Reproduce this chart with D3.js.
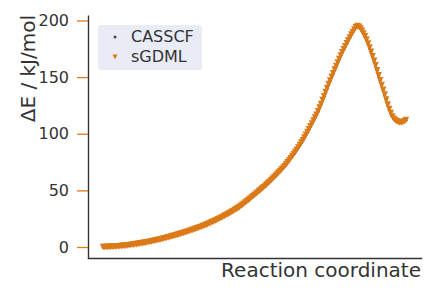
<!DOCTYPE html>
<html>
<head>
<meta charset="utf-8">
<script src="https://cdn.jsdelivr.net/npm/d3@7"></script>
<style>
  body { margin: 0; background: #fff; }
  svg { display: block; font-family: "DejaVu Sans", sans-serif; }
</style>
</head>
<body>
<script>
"use strict";

// energies along the reaction coordinate (kJ/mol), one value per frame
const casscf = [
    0.0, 0.02, 0.04, 0.07, 0.12, 0.17, 0.24, 0.32, 0.40, 0.50,
    0.60, 0.72, 0.84, 0.97, 1.11, 1.26, 1.42, 1.58, 1.75, 1.93,
    2.12, 2.32, 2.52, 2.73, 2.95, 3.17, 3.41, 3.65, 3.90, 4.16,
    4.42, 4.69, 4.97, 5.25, 5.55, 5.85, 6.15, 6.46, 6.78, 7.11,
    7.45, 7.79, 8.13, 8.49, 8.85, 9.22, 9.59, 9.97, 10.36, 10.75,
    11.15, 11.56, 11.97, 12.39, 12.81, 13.25, 13.69, 14.13, 14.58, 15.04,
    15.51, 15.98, 16.46, 16.94, 17.43, 17.95, 18.48, 19.02, 19.58, 20.15,
    20.73, 21.33, 21.93, 22.55, 23.19, 23.84, 24.50, 25.17, 25.86, 26.55,
    27.26, 27.99, 28.73, 29.48, 30.24, 31.02, 31.81, 32.61, 33.42, 34.3,
    35.25, 36.2, 37.2, 38.25, 39.3, 40.35, 41.4, 42.5, 43.65, 44.8,
    45.9, 47.0, 48.15, 49.3, 50.4, 51.5, 52.7, 53.9, 55.1, 56.4,
    57.65, 58.9, 60.2, 61.55, 62.9, 64.3, 65.7, 67.1, 68.55, 70.0,
    71.5, 73.15, 74.85, 76.6, 78.4, 80.2, 82.05, 83.95, 85.9, 87.9,
    90.0, 92.1, 94.3, 96.6, 99.0, 101.4, 103.9, 106.45, 109.05, 111.65,
    114.2, 116.8, 119.8, 123.1, 126.3, 129.7, 133.1, 136.7, 140.4, 143.8,
    147.0, 150.2, 153.4, 156.6, 159.7, 162.9, 166.0, 169.0, 171.8, 174.5,
    177.2, 179.9, 182.5, 185.0, 187.5, 189.8, 192.0, 194.0, 195.0, 194.4,
    192.9, 190.8, 188.5, 185.9, 183.0, 179.6, 176.0, 172.3, 168.4, 164.4,
    160.3, 156.0, 151.6, 147.2, 142.9, 138.7, 134.5, 130.1, 125.7, 121.8,
    118.2, 115.2, 113.2, 111.9, 111.0, 110.35, 110.0, 110.05, 110.4, 111.05,
    112.0
];

const sgdml = [
    0.0, 0.02, 0.04, 0.07, 0.12, 0.17, 0.24, 0.32, 0.40, 0.50,
    0.60, 0.72, 0.84, 0.97, 1.11, 1.26, 1.42, 1.58, 1.75, 1.93,
    2.12, 2.32, 2.52, 2.73, 2.95, 3.17, 3.41, 3.65, 3.90, 4.16,
    4.42, 4.69, 4.97, 5.25, 5.55, 5.85, 6.15, 6.46, 6.78, 7.11,
    7.45, 7.79, 8.13, 8.49, 8.85, 9.22, 9.59, 9.97, 10.36, 10.75,
    11.15, 11.56, 11.97, 12.39, 12.81, 13.25, 13.69, 14.13, 14.58, 15.04,
    15.51, 15.98, 16.46, 16.94, 17.43, 17.95, 18.48, 19.02, 19.58, 20.15,
    20.73, 21.33, 21.93, 22.55, 23.19, 23.84, 24.50, 25.17, 25.86, 26.55,
    27.26, 27.99, 28.73, 29.48, 30.24, 31.02, 31.81, 32.61, 33.42, 34.3,
    35.25, 36.2, 37.2, 38.25, 39.3, 40.35, 41.4, 42.5, 43.65, 44.8,
    45.9, 47.0, 48.15, 49.3, 50.4, 51.5, 52.7, 53.9, 55.1, 56.4,
    57.65, 58.9, 60.2, 61.55, 62.9, 64.3, 65.7, 67.1, 68.55, 70.0,
    71.5, 73.15, 74.85, 76.6, 78.4, 80.2, 82.05, 83.95, 85.9, 87.9,
    90.0, 92.1, 94.3, 96.6, 99.0, 101.4, 103.9, 106.45, 109.05, 111.65,
    114.2, 116.8, 119.8, 123.1, 126.3, 129.7, 133.1, 136.7, 140.4, 143.8,
    147.0, 150.2, 153.4, 156.6, 159.7, 162.9, 166.0, 169.0, 171.8, 174.5,
    177.2, 179.9, 182.5, 185.0, 187.5, 189.8, 192.0, 194.0, 195.0, 194.4,
    192.9, 190.8, 188.5, 185.9, 183.0, 179.6, 176.0, 172.3, 168.4, 164.4,
    160.3, 156.0, 151.6, 147.2, 142.9, 138.7, 134.5, 130.1, 125.7, 121.8,
    118.2, 115.2, 113.2, 111.9, 111.0, 110.35, 110.0, 110.05, 110.4, 111.05,
    112.0
];

const yTicks = [0, 50, 100, 150, 200];
const seriesNames = ["CASSCF", "sGDML"];

const W = 436, H = 295;
const orange = "#dc7a18", grey = "#454545", ink = "#333";
const ms = 6.6;   // marker size in px

let svg = d3.select("body").append("svg")
    .attr("width", W)
    .attr("height", H);

let n = casscf.length - 1;
let x = d3.scaleLinear()
    .domain([-0.05 * n, 1.05 * n])
    .range([88, 421]);

let y = d3.scaleLinear()
    .domain([-9.7, 204.8])
    .range([258, 15]);

// down-pointing triangle, matplotlib "v"
function tri(s) {
    let h = s / 2;
    return `M ${-h} ${-h} L ${h} ${-h} L 0 ${h} Z`;
}

// CASSCF underneath
svg.append("g").selectAll("circle")
    .data(casscf)
    .enter().append("circle")
    .attr("cx", (d, i) => x(i))
    .attr("cy", d => y(d))
    .attr("r", ms / 4)
    .attr("fill", grey);

// sGDML on top
svg.append("g").selectAll("path")
    .data(sgdml)
    .enter().append("path")
    .attr("d", tri(ms))
    .attr("transform", (d, i) => "translate(" + x(i) + "," + y(d) + ")")
    .attr("fill", orange);

// axes
let yAxis = svg.append("g")
    .attr("transform", "translate(88,0)")
    .call(d3.axisLeft(y).tickValues(yTicks).tickSize(11).tickSizeOuter(0).tickPadding(8));

yAxis.select(".domain").attr("stroke", ink).attr("stroke-width", 1.4);
yAxis.selectAll(".tick line").attr("stroke", orange).attr("stroke-width", 1.3);
yAxis.selectAll(".tick text")
    .attr("fill", ink)
    .style("font-size", "16px")
    .style("font-family", "DejaVu Sans");

let xAxis = svg.append("g")
    .attr("transform", "translate(0,258)")
    .call(d3.axisBottom(x).tickValues([]).tickSizeOuter(0));

xAxis.select(".domain").attr("stroke", ink).attr("stroke-width", 1.4)
    .attr("stroke-linecap", "square");

// labels
svg.append("text")
    .attr("transform", "translate(35,15) rotate(-90)")
    .attr("text-anchor", "end")
    .attr("fill", ink)
    .style("font-size", "20px")
    .text("ΔE / kJ/mol");

svg.append("text")
    .attr("x", 421)
    .attr("y", 277)
    .attr("text-anchor", "end")
    .attr("fill", ink)
    .style("font-size", "20px")
    .text("Reaction coordinate");

// legend
let legend = svg.append("g");
legend.append("rect")
    .attr("x", 98).attr("y", 25)
    .attr("width", 104).attr("height", 45)
    .attr("rx", 3)
    .attr("fill", "#e9ecf5");

legend.append("circle")
    .attr("cx", 115).attr("cy", 37)
    .attr("r", 1.5)
    .attr("fill", grey);

legend.append("path")
    .attr("d", tri(5))
    .attr("transform", "translate(115,57)")
    .attr("fill", orange);

legend.selectAll("text.lab")
    .data(seriesNames)
    .enter().append("text")
    .attr("class", "lab")
    .attr("x", 131)
    .attr("y", (d, i) => 42 + i * 20)
    .attr("fill", ink)
    .style("font-size", "16px")
    .text(d => d);
</script>
</body>
</html>
